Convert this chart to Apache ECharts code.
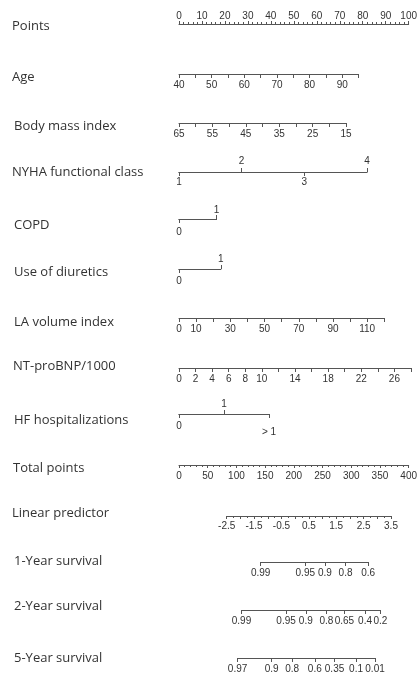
<!DOCTYPE html>
<html><head><meta charset="utf-8">
<script src="https://cdn.jsdelivr.net/npm/echarts@6/dist/echarts.min.js"></script>
<style>html,body{margin:0;padding:0;background:#fff}#c{width:420px;height:676px}</style>
</head><body><div id="c"></div>
<script>
// ---------------- data ----------------
const rowTitles = ['Points','Age','Body mass index','NYHA functional class','COPD','Use of diuretics',
  'LA volume index','NT-proBNP/1000','HF hospitalizations','Total points','Linear predictor',
  '1-Year survival','2-Year survival','5-Year survival'];

const pointsRange = [0, 100];
const ageRange = [40, 95];          const agePoints = [0, 77.4];
const bmiRange = [65, 15];          const bmiPoints = [0, 72.0];
const nyhaLabels = ['1','2','3','4']; const nyhaPoints = [0, 27.0, 54.0, 81.0];
const copdLabels = ['0','1'];       const copdPoints = [0, 16.2];
const diurLabels = ['0','1'];       const diurPoints = [0, 18.0];
const laRange = [0, 120];           const laPoints = [0, 88.5];
const laLabels = [0, 10, 30, 50, 70, 90, 110];
const bnpRange = [0, 28];           const bnpPoints = [0, 100];
const bnpLabels = [0, 2, 4, 6, 8, 10, 14, 18, 22, 26];
const hfLabels = ['0','1','> 1'];   const hfPoints = [0, 19.4, 38.8];
const totalRange = [0, 400];
const lpRange = [-2.5, 3.5];        const lpTotalPoints = [82.2, 365.5];
const lpLabels = [-2.5, -1.5, -0.5, 0.5, 1.5, 2.5, 3.5];
const surv1 = [0.99, 0.95, 0.9, 0.8, 0.6];
const surv2 = [0.99, 0.95, 0.9, 0.8, 0.65, 0.4, 0.2];
const surv5 = [0.97, 0.9, 0.8, 0.6, 0.35, 0.1, 0.01];
const baselineLogCumHaz = [-3.34, -2.64, -1.39]; // log(-log S0) for 1, 2, 5 years

// ---------------- layout ----------------
const X0 = 179, PPP = 2.32, TPP = 0.58;
const rowY   = [24, 74, 123, 172, 219, 269, 318, 368, 414, 465, 516, 562, 610, 658];
const titleY = [26, 77, 126, 172, 225, 272, 322, 366, 420, 468, 513, 561, 606, 658];
const titleX = [12, 12, 14, 12, 14, 14, 14, 13, 14, 13, 12, 14, 14, 14];
const LINE = '#555';
const LBL = {fontSize: 10, color: '#333', fontFamily: '"Liberation Sans", Arial, sans-serif'};

const grids = [], xAxes = [], yAxes = [];
function addGrid(x1, x2, y) {
  grids.push({left: x1, top: y, width: x2 - x1, height: 0});
  yAxes.push({gridIndex: grids.length - 1, type: 'value', show: false, min: 0, max: 1});
  return grids.length - 1;
}
function axis(gi, pos, min, max, o) {
  o = o || {};
  return {
    gridIndex: gi, type: 'value', position: pos, min: min, max: max,
    interval: o.interval, inverse: !!o.inverse,
    axisLine: {show: true, onZero: false, lineStyle: {color: LINE, width: 1}},
    axisTick: Object.assign({show: true, length: o.tickLen || 4, lineStyle: {color: LINE}},
      o.tickValues ? {customValues: o.tickValues} : {}),
    minorTick: o.minor ? {show: true, splitNumber: o.minor, length: 2, lineStyle: {color: LINE}} : {show: false},
    axisLabel: Object.assign({show: true, margin: o.margin != null ? o.margin : 6, formatter: o.fmt,
      showMinLabel: true, showMaxLabel: true, hideOverlap: false, rich: o.rich}, LBL,
      o.labelValues ? {customValues: o.labelValues} : {}),
    splitLine: {show: false}
  };
}
const px = p => X0 + p * PPP;
const tx = t => X0 + t * TPP;
function lookup(vals, labels) {
  return v => { let bi = 0; vals.forEach((x, i) => { if (Math.abs(x - v) < Math.abs(vals[bi] - v)) bi = i; }); return labels[bi]; };
}

// Points
let g = addGrid(px(pointsRange[0]), px(pointsRange[1]), rowY[0]);
xAxes.push(axis(g, 'top', pointsRange[0], pointsRange[1], {interval: 10, minor: 5, tickLen: 3, margin: 3}));
// Age
g = addGrid(px(agePoints[0]), px(agePoints[1]), rowY[1]);
xAxes.push(axis(g, 'bottom', ageRange[0], ageRange[1], {interval: 5, fmt: v => v % 10 === 0 ? String(v) : ''}));
// BMI (reversed)
g = addGrid(px(bmiPoints[0]), px(bmiPoints[1]), rowY[2]);
xAxes.push(axis(g, 'bottom', Math.min(...bmiRange), Math.max(...bmiRange), {interval: 5, inverse: true,
  fmt: v => (v - Math.min(...bmiRange)) % 10 === 0 ? String(v) : ''}));
// categorical rows: labels alternately below / above
function catRow(idx, labels, pts, sides, opts) {
  opts = opts || {};
  const gi = addGrid(px(pts[0]), px(pts[pts.length - 1]), rowY[idx]);
  const f = lookup(pts, labels);
  const below = pts.filter((p, i) => sides[i] === 'b');
  const above = pts.filter((p, i) => sides[i] === 'a');
  const mn = pts[0], mx = pts[pts.length - 1];
  xAxes.push(axis(gi, 'bottom', mn, mx, {tickValues: below, labelValues: below, margin: opts.bm,
    fmt: v => { const s = f(v); return (opts.low && opts.low.includes(s)) ? '{lo|' + s + '}' : s; },
    rich: {lo: Object.assign({padding: [6, 0, 0, 0]}, LBL)}}));
  xAxes.push(axis(gi, 'top', mn, mx, {tickValues: above, labelValues: above, margin: opts.tm, fmt: f}));
}
catRow(3, nyhaLabels, nyhaPoints, ['b', 'a', 'b', 'a'], {bm: 5, tm: 6});
catRow(4, copdLabels, copdPoints, ['b', 'a'], {bm: 8, tm: 4});
catRow(5, diurLabels, diurPoints, ['b', 'a'], {bm: 7, tm: 5});
// LA volume index
g = addGrid(px(laPoints[0]), px(laPoints[1]), rowY[6]);
xAxes.push(axis(g, 'bottom', laRange[0], laRange[1], {interval: 10, labelValues: laLabels}));
// NT-proBNP
g = addGrid(px(bnpPoints[0]), px(bnpPoints[1]), rowY[7]);
xAxes.push(axis(g, 'bottom', bnpRange[0], bnpRange[1], {interval: 2, labelValues: bnpLabels}));
// HF hospitalizations
catRow(8, hfLabels, hfPoints, ['b', 'a', 'b'], {low: ['> 1'], bm: 7, tm: 5});
// Total points
g = addGrid(tx(totalRange[0]), tx(totalRange[1]), rowY[9]);
xAxes.push(axis(g, 'bottom', totalRange[0], totalRange[1], {interval: 50, minor: 5, tickLen: 3}));
// Linear predictor
const lpX = lp => tx(lpTotalPoints[0] + (lp - lpRange[0]) / (lpRange[1] - lpRange[0]) * (lpTotalPoints[1] - lpTotalPoints[0]));
g = addGrid(lpX(lpRange[0]), lpX(lpRange[1]), rowY[10]);
xAxes.push(axis(g, 'bottom', lpRange[0], lpRange[1], {interval: 0.5, minor: 2, tickLen: 3, margin: 5,
  labelValues: lpLabels, fmt: v => v.toFixed(1)}));
// Survival axes (Cox: S = S0^exp(lp) => lp = log(-log S) - log(-log S0))
[surv1, surv2, surv5].forEach((s, k) => {
  const lps = s.map(p => Math.log(-Math.log(p)) - baselineLogCumHaz[k]);
  const gi = addGrid(lpX(lps[0]), lpX(lps[lps.length - 1]), rowY[11 + k]);
  xAxes.push(axis(gi, 'bottom', lps[0], lps[lps.length - 1], {tickValues: lps, labelValues: lps,
    fmt: lookup(lps, s.map(String))}));
});

const titles = rowTitles.map((t, i) => ({
  type: 'text', x: titleX[i], y: titleY[i],
  style: {text: t, fill: '#333', font: '13px "Open Sans", sans-serif', verticalAlign: 'middle', align: 'left'}
}));

const chart = echarts.init(document.getElementById('c'), null, {renderer: 'canvas'});
chart.setOption({
  animation: false,
  grid: grids, xAxis: xAxes, yAxis: yAxes,
  graphic: titles,
  series: []
});
</script></body></html>
